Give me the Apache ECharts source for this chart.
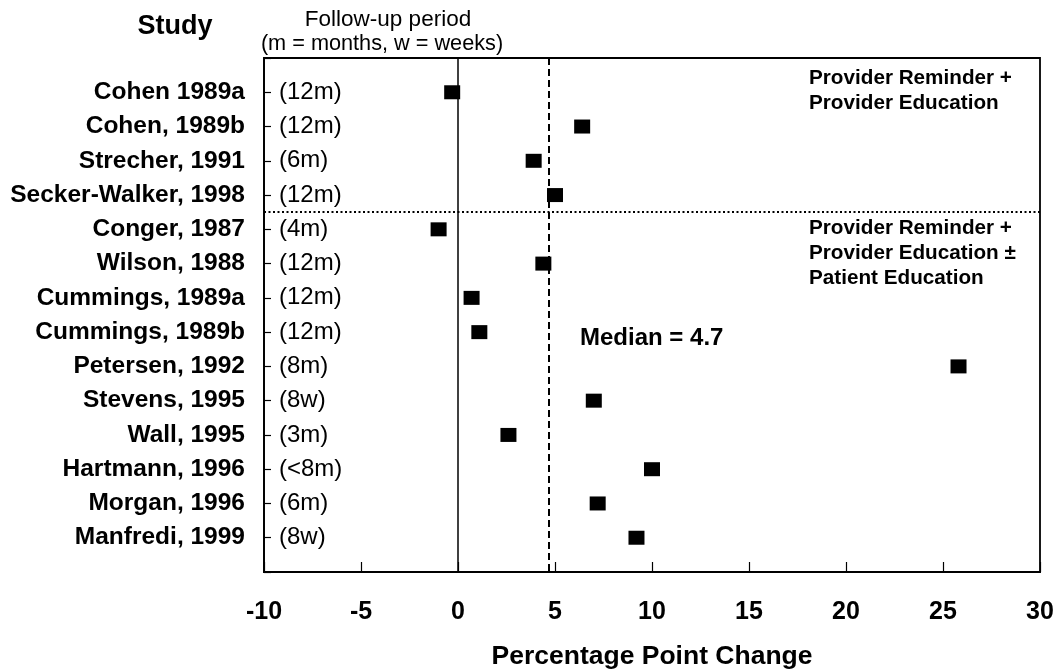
<!DOCTYPE html>
<html>
<head>
<meta charset="utf-8">
<script src="https://cdn.jsdelivr.net/npm/echarts@6/dist/echarts.min.js"></script>
<style>
html,body{margin:0;padding:0;background:#fff;}
#chart{width:1060px;height:672px;}
</style>
</head>
<body>
<div id="chart"></div>
<script>
var studies = ['Cohen 1989a','Cohen, 1989b','Strecher, 1991','Secker-Walker, 1998','Conger, 1987','Wilson, 1988','Cummings, 1989a','Cummings, 1989b','Petersen, 1992','Stevens, 1995','Wall, 1995','Hartmann, 1996','Morgan, 1996','Manfredi, 1999'];
var followUps = ['(12m)','(12m)','(6m)','(12m)','(4m)','(12m)','(12m)','(12m)','(8m)','(8w)','(3m)','(<8m)','(6m)','(8w)'];
var changes = [-0.3, 6.4, 3.9, 5.0, -1.0, 4.4, 0.7, 1.1, 25.8, 7.0, 2.6, 10.0, 7.2, 9.2];
var medianValue = 4.7;
var groupSplit = 4.5;
var xTicks = [-10, -5, 0, 5, 10, 15, 20, 25, 30];

var FONT = '"Liberation Sans", Arial, Helvetica, sans-serif';
var chart = echarts.init(document.getElementById('chart'));
var points = changes.map(function (v, i) { return [v, i + 1]; });

chart.setOption({
  backgroundColor: '#fff',
  animation: false,
  grid: { left: 264, right: 20, top: 58, bottom: 100, show: true, borderColor: '#000', borderWidth: 1.8, outerBoundsMode: 'none', containLabel: false },
  xAxis: {
    type: 'value', min: xTicks[0], max: xTicks[xTicks.length - 1], interval: 5,
    name: 'Percentage Point Change', nameLocation: 'middle', nameGap: 71,
    nameTextStyle: { fontFamily: FONT, fontWeight: 'bold', fontSize: 26.5, color: '#000' },
    axisLine: { show: true, onZero: false, lineStyle: { color: '#000', width: 1.8 } },
    axisTick: { show: true, inside: true, length: 10, lineStyle: { color: '#000', width: 1.2 } },
    axisLabel: { margin: 28, fontFamily: FONT, fontWeight: 'bold', fontSize: 25, color: '#000' },
    splitLine: { show: false }
  },
  yAxis: [{
    type: 'value', min: 0, max: 15, interval: 1, inverse: true,
    axisLine: { show: true, onZero: false, lineStyle: { color: '#000', width: 1.8 } },
    axisTick: { show: true, inside: true, length: 7, lineStyle: { color: '#000', width: 1.2 } },
    axisLabel: {
      margin: 19, fontFamily: FONT, fontWeight: 'bold', fontSize: 24.5, color: '#000',
      formatter: function (v) { return studies[v - 1] || ''; }
    },
    splitLine: { show: false }
  }, {
    type: 'value', min: 0, max: 15, interval: 1, inverse: true, position: 'left',
    axisLine: { show: false }, axisTick: { show: false }, splitLine: { show: false },
    axisLabel: {
      inside: true, margin: 15, fontFamily: FONT, fontSize: 24, color: '#000',
      padding: [0, 0, 5, 0],
      formatter: function (v) { return followUps[v - 1] || ''; }
    }
  }],
  series: [{
    type: 'scatter',
    data: points,
    symbol: 'rect',
    symbolSize: [16, 14],
    itemStyle: { color: '#000', opacity: 1 },
    z: 5,
    markLine: {
      silent: true, symbol: 'none', label: { show: false }, animation: false,
      data: [
        { xAxis: 0, lineStyle: { color: '#000', width: 1.5, type: 'solid' } },
        { xAxis: medianValue, lineStyle: { color: '#000', width: 2, type: [7, 4] } },
        { yAxis: groupSplit, lineStyle: { color: '#000', width: 2.2, type: [2, 2.5] } }
      ]
    }
  }],
  graphic: [
    { type: 'text', style: { text: 'Study', x: 175, y: 27, align: 'center', verticalAlign: 'middle', font: 'bold 27px ' + FONT, fill: '#000' } },
    { type: 'text', style: { text: 'Follow-up period', x: 388, y: 20, align: 'center', verticalAlign: 'middle', font: '22.5px ' + FONT, fill: '#000' } },
    { type: 'text', style: { text: '(m = months, w = weeks)', x: 382, y: 44, align: 'center', verticalAlign: 'middle', font: '21.7px ' + FONT, fill: '#000' } },
    { type: 'text', style: { text: 'Provider Reminder +\nProvider Education', x: 809, y: 66, align: 'left', verticalAlign: 'top', lineHeight: 25, font: 'bold 20.7px ' + FONT, fill: '#000' } },
    { type: 'text', style: { text: 'Provider Reminder +\nProvider Education \u00b1\nPatient Education', x: 809, y: 216, align: 'left', verticalAlign: 'top', lineHeight: 25, font: 'bold 20.7px ' + FONT, fill: '#000' } },
    { type: 'text', style: { text: 'Median = 4.7', x: 580, y: 338, align: 'left', verticalAlign: 'middle', font: 'bold 24px ' + FONT, fill: '#000' } }
  ]
});
</script>
</body>
</html>
